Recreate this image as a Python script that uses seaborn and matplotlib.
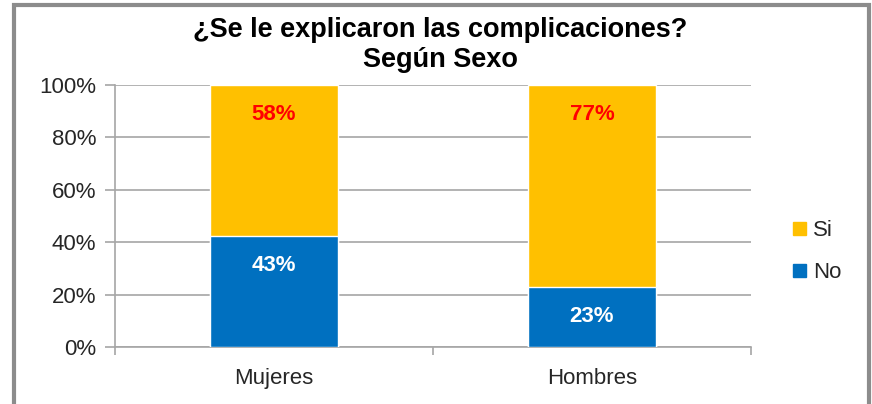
import matplotlib
matplotlib.use('Agg')
import matplotlib.pyplot as plt
import seaborn as sns
import pandas as pd
from matplotlib.patches import Rectangle, Patch
from matplotlib.ticker import FuncFormatter

sns.set_style('white')
plt.rcParams['font.family'] = ['Liberation Sans', 'DejaVu Sans']

categorias = ['Mujeres', 'Hombres']
no_vals = [42.5, 23.0]
si_vals = [57.5, 77.0]
no_labels = ['43%', '23%']
si_labels = ['58%', '77%']

df = pd.DataFrame({'sexo': categorias, 'No': no_vals, 'Si': si_vals})
df['total'] = df['No'] + df['Si']

fig = plt.figure(figsize=(8.72, 4.04), dpi=100)
ax = fig.add_axes([0.1319, 0.1411, 0.7293, 0.6485])

# marco del grafico (estilo Excel)
fig.patches.append(Rectangle((14 / 872, -0.05), 855 / 872, 1.05 - 5 / 404,
                             transform=fig.transFigure, fill=False,
                             edgecolor='#8c8c8c', linewidth=3, zorder=0))

sns.barplot(data=df, x='sexo', y='total', color='#FFC000', width=0.4,
            saturation=1, ax=ax, zorder=3)
sns.barplot(data=df, x='sexo', y='No', color='#0070C0', width=0.4,
            saturation=1, ax=ax, zorder=3)

for i in range(len(categorias)):
    ax.text(i, df['total'][i] - 11.3, si_labels[i], ha='center', va='center',
            color='#FF0000', fontsize=16, fontweight='bold', zorder=4)
    ax.text(i, df['No'][i] - 11.3, no_labels[i], ha='center', va='center',
            color='white', fontsize=16, fontweight='bold', zorder=4)

ax.set_ylim(0, 100)
ax.set_xlim(-0.5, 1.5)
ax.set_yticks(range(0, 101, 20))
ax.yaxis.set_major_formatter(FuncFormatter(lambda v, p: f'{int(v)}%'))
ax.yaxis.grid(True, color='#a6a6a6', linewidth=1.2, zorder=0)
ax.set_axisbelow(True)
ax.set_xlabel('')
ax.set_ylabel('')

for s in ['top', 'right']:
    ax.spines[s].set_visible(False)
for s in ['left', 'bottom']:
    ax.spines[s].set_color('#a6a6a6')
    ax.spines[s].set_linewidth(1.2)

ax.tick_params(axis='y', which='major', direction='out', length=7, width=1.2,
               color='#a6a6a6', labelsize=16, labelcolor='#262626', left=True, pad=6.5)
ax.tick_params(axis='x', which='major', length=0, labelsize=16,
               labelcolor='#262626', pad=15)
ax.set_xticks([-0.5, 0.5, 1.5], minor=True)
ax.tick_params(axis='x', which='minor', direction='out', length=6, width=1.2,
               color='#a6a6a6', bottom=True)

fig.text(0.505, 1 - 37 / 404, '¿Se le explicaron las complicaciones?',
         ha='center', va='baseline', fontsize=19.5, fontweight='bold', color='black')
fig.text(0.505, 1 - 67 / 404, 'Según Sexo',
         ha='center', va='baseline', fontsize=19.5, fontweight='bold', color='black')

handles = [Patch(color='#FFC000', label='Si'), Patch(color='#0070C0', label='No')]
fig.legend(handles=handles, loc='center left', bbox_to_anchor=(0.897, 0.377),
           frameon=False, fontsize=16, handlelength=0.55, handleheight=0.55,
           handletextpad=0.35, labelspacing=0.95, borderpad=0)

fig.savefig('out.png', dpi=100)
